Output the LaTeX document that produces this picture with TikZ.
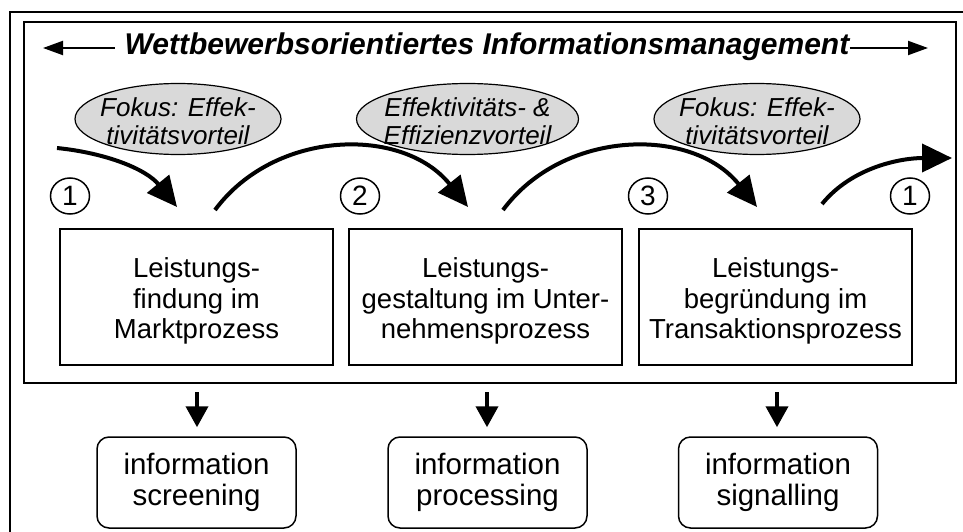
\documentclass[tikz,border=0pt]{standalone}
\usepackage{fontspec}
\setmainfont{Liberation Sans}
\usetikzlibrary{arrows.meta,shapes.geometric}
\begin{document}
\begin{tikzpicture}[x=1pt,y=-1pt,
  frame/.style={draw, line width=2pt, inner sep=0pt},
  procbox/.style={draw, line width=1.5pt, minimum width=273pt, minimum height=136pt, inner sep=0pt},
  proctext/.style={align=center, font=\fontsize{27.5}{30.5}\selectfont, inner sep=0pt},
  infobox/.style={draw, line width=1.5pt, rounded corners=12pt, minimum width=199pt, minimum height=91pt, align=center, font=\fontsize{29.5}{31}\selectfont, inner sep=0pt},
  bubble/.style={ellipse, draw, line width=1.2pt, fill=black!15, minimum width=206pt, minimum height=71pt, inner sep=0pt},
  bubbletext/.style={align=center, font=\itshape\fontsize{26}{28.5}\selectfont, inner sep=0pt},
  num/.style={ellipse, draw, line width=1.5pt, minimum width=39pt, minimum height=36pt, inner sep=0pt, font=\fontsize{28}{28}\selectfont},
  flow/.style={line width=4pt, -{Triangle[length=30pt,width=28pt]}},
  downarr/.style={line width=4pt, -{Triangle[length=21pt,width=22pt]}},
  titlearr/.style={line width=2pt, -{Triangle[length=20pt,width=14pt]}}
]
\useasboundingbox (0,0) rectangle (963,532);
\fill[white] (0,0) rectangle (963,532);

% frames
\node[frame, minimum width=980pt, minimum height=548pt] (outer) at (500,286) {};
\node[frame, minimum width=932pt, minimum height=361pt] (inner) at (490,202.5) {};

% title
\node[font=\bfseries\itshape\fontsize{30}{36}\selectfont, anchor=base, inner sep=0pt] (title) at (487,55) {Wettbewerbsorientiertes Informationsmanagement};
\coordinate (tla) at (43,48);
\coordinate (tra) at (928,48);
\draw[titlearr] ([xshift=-10pt]title.west |- tla) -- (tla);
\draw[titlearr] (title.east |- tra) -- (tra);

% bubbles
\node[bubble] (e1) at (178,119) {};
\node[bubbletext] (t1) at (178,121) {Fokus: Effek-\\tivitätsvorteil};
\node[bubble, minimum width=222pt] (e2) at (467.5,119) {};
\node[bubbletext] (t2) at (467.5,121) {Effektivitäts- \&\\Effizienzvorteil};
\node[bubble] (e3) at (757,119) {};
\node[bubbletext] (t3) at (757,121) {Fokus: Effek-\\tivitätsvorteil};

% numbers
\node[num] (n1) at (70,196) {1};
\node[num] (n2) at (360,196) {2};
\node[num] (n3) at (648,196) {3};
\node[num] (n4) at (910,196) {1};

% process boxes
\node[procbox] (b1) at (196.5,297) {};
\node[proctext] (b1t) at (196.5,301) {Leistungs-\\findung im\\Marktprozess};
\node[procbox] (b2) at (485.5,297) {};
\node[proctext] (b2t) at (485.5,301) {Leistungs-\\gestaltung im Unter-\\nehmensprozess};
\node[procbox] (b3) at (775.5,297) {};
\node[proctext] (b3t) at (775.5,301) {Leistungs-\\begründung im\\Transaktionsprozess};

% flow arrows
\coordinate (a1s) at (57,148);  \coordinate (a1e) at (177,207);
\coordinate (a2s) at (215,210); \coordinate (a2e) at (468,207);
\coordinate (a3s) at (503,210); \coordinate (a3e) at (757,207);
\coordinate (a4s) at (822,204); \coordinate (a4e) at (952,158);
\draw[flow] (a1s) .. controls (106,153) and (146,169) .. (a1e);
\draw[flow] (a2s) .. controls (275,129) and (403,126) .. (a2e);
\draw[flow] (a3s) .. controls (563,129) and (692,126) .. (a3e);
\draw[flow] (a4s) .. controls (853,166) and (903,158) .. (a4e);

% info boxes
\node[infobox] (i1) at (196.5,482.5) {information\\screening};
\node[infobox] (i2) at (487.5,482.5) {information\\processing};
\node[infobox] (i3) at (778,482.5) {information\\signalling};

% down arrows
\coordinate (d1) at (197,392);
\coordinate (d2) at (487,392);
\coordinate (d3) at (777,392);
\draw[downarr, shorten >=9pt] (d1) -- (d1 |- i1.north);
\draw[downarr, shorten >=9pt] (d2) -- (d2 |- i2.north);
\draw[downarr, shorten >=9pt] (d3) -- (d3 |- i3.north);
\end{tikzpicture}
\end{document}
